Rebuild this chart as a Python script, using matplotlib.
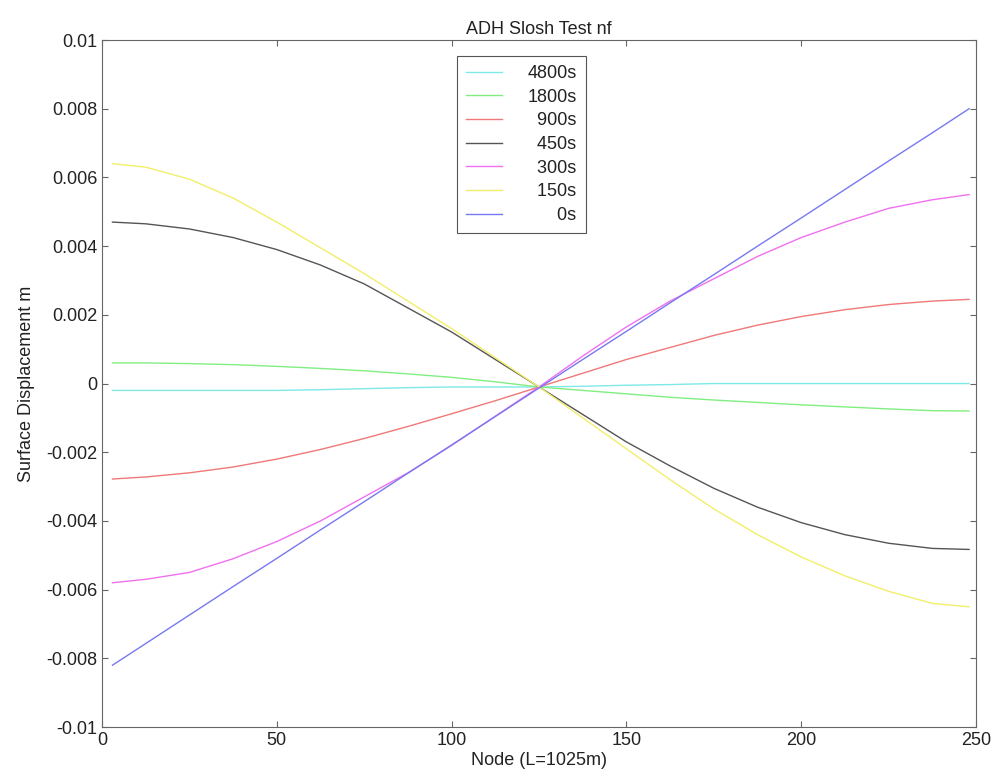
import matplotlib
matplotlib.use("Agg")
from matplotlib import pyplot as plt

node = [3, 12.5, 25, 37.5, 50, 62.5, 75, 87.5, 100, 112.5, 125,
        137.5, 150, 162.5, 175, 187.5, 200, 212.5, 225, 237.5, 248]

# surface displacement (m) for each time
d_4800 = [-0.0002, -0.0002, -0.0002, -0.0002, -0.0002, -0.00018, -0.00015, -0.00012, -0.0001, -0.0001, -0.0001,
          -0.00008, -0.00005, -0.00003, 0.0, 0.0, 0.0, 0.0, 0.0, 0.0, 0.0]
d_1800 = [0.0006, 0.0006, 0.00058, 0.00055, 0.0005, 0.00044, 0.00037, 0.00028, 0.00018, 0.00005, -0.0001,
          -0.0002, -0.0003, -0.0004, -0.00048, -0.00055, -0.00062, -0.00068, -0.00074, -0.00079, -0.0008]
d_900 = [-0.00278, -0.00272, -0.0026, -0.00243, -0.0022, -0.00192, -0.0016, -0.00125, -0.00088, -0.0005, -0.0001,
         0.0003, 0.0007, 0.00105, 0.0014, 0.0017, 0.00195, 0.00215, 0.0023, 0.0024, 0.00245]
d_450 = [0.0047, 0.00465, 0.0045, 0.00425, 0.0039, 0.00345, 0.0029, 0.0022, 0.0015, 0.0007, -0.0001,
         -0.0009, -0.0017, -0.0024, -0.00305, -0.0036, -0.00405, -0.0044, -0.00465, -0.0048, -0.00483]
d_300 = [-0.0058, -0.0057, -0.0055, -0.0051, -0.0046, -0.0040, -0.0033, -0.0026, -0.0018, -0.00095, -0.0001,
         0.0008, 0.00165, 0.0024, 0.00305, 0.0037, 0.00425, 0.0047, 0.0051, 0.00535, 0.0055]
d_150 = [0.0064, 0.0063, 0.00595, 0.0054, 0.0047, 0.00395, 0.0032, 0.0024, 0.0016, 0.00075, -0.0001,
         -0.0010, -0.0019, -0.0028, -0.00365, -0.0044, -0.00505, -0.0056, -0.00605, -0.0064, -0.0065]
d_0 = [-0.0082, -0.00757, -0.00674, -0.00591, -0.00509, -0.00426, -0.00344, -0.00261, -0.00179, -0.00096, -0.00013,
       0.0007, 0.00152, 0.00235, 0.00317, 0.004, 0.00482, 0.00565, 0.00648, 0.0073, 0.0080]

labels = ["4800s", "1800s", "  900s", "  450s", "  300s", "  150s", "      0s"]
colors = ["#7fe8e8", "#80ee80", "#f07878", "#555555", "#f070f0", "#f2ee6a", "#7878f0"]
series = [d_4800, d_1800, d_900, d_450, d_300, d_150, d_0]

plt.rcParams["font.family"] = ["Liberation Sans", "DejaVu Sans"]
plt.rcParams["font.size"] = 13
plt.rcParams["text.color"] = "#222222"
plt.rcParams["axes.labelcolor"] = "#222222"
plt.rcParams["xtick.labelcolor"] = "#222222"
plt.rcParams["ytick.labelcolor"] = "#222222"

fig = plt.figure(figsize=(9.97, 7.82), dpi=100)
ax = fig.add_axes([0.1023, 0.0703, 0.8767, 0.8785])

for y, c, lab in zip(series, colors, labels):
    ax.plot(node, y, color=c, linewidth=1.0, label=lab)

ax.set_xlim(0, 250)
ax.set_ylim(-0.01, 0.01)
ax.set_xticks([0, 50, 100, 150, 200, 250])
ax.set_yticks([-0.01, -0.008, -0.006, -0.004, -0.002, 0, 0.002, 0.004, 0.006, 0.008, 0.01])
ax.set_yticklabels(["-0.01", "-0.008", "-0.006", "-0.004", "-0.002", "0",
                    "0.002", "0.004", "0.006", "0.008", "0.01"])
ax.tick_params(direction="in", top=True, right=True, length=4, color="#666666")
for s in ax.spines.values():
    s.set_color("#666666")

ax.set_title("ADH Slosh Test nf", fontsize=13, pad=4)
ax.set_xlabel("Node (L=1025m)", labelpad=2)
ax.set_ylabel("Surface Displacement m", labelpad=8)

leg = ax.legend(loc="upper left", bbox_to_anchor=(0.406, 0.977), borderaxespad=0,
                fancybox=False, framealpha=1, edgecolor="#555555",
                handlelength=2.0, handletextpad=1.4, borderpad=0.5,
                labelspacing=0.37, fontsize=13)
leg.get_frame().set_linewidth(0.8)

fig.savefig("out.png", dpi=100)
